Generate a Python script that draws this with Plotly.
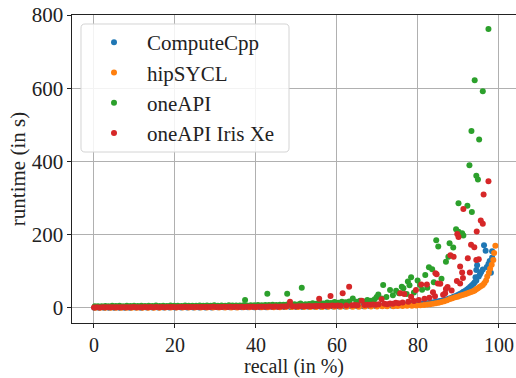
import plotly.graph_objects as go

# ---------------- data ----------------
cc_x = [0.1, 1.2, 2.5, 3.7, 5.0, 6.3, 7.6, 8.9, 10.2, 11.6, 13.0, 14.4, 15.8, 17.2, 18.6, 20.0,
        21.5, 23.0, 24.5, 26.0, 27.5, 29.0, 30.5, 32.0, 33.5, 35.0, 36.5, 38.0, 39.5, 41.0,
        42.5, 44.0, 45.5, 47.0, 48.5, 50.0, 51.5, 53.0, 54.5, 56.0, 57.5, 59.0, 60.5, 62.0,
        63.5, 65.0, 66.5, 68.0, 69.5, 71.0, 72.2, 73.4, 74.5, 75.6, 76.6, 77.5, 78.4, 79.3,
        80.1, 80.9, 81.6, 82.3, 83.0, 83.6, 84.2, 84.8, 85.4, 86.0, 86.6, 87.2, 87.7, 88.3,
        88.8, 89.3, 89.8, 90.3, 90.8, 91.2, 91.7, 92.1, 92.5, 92.9, 93.3, 93.7, 94.0, 94.2,
        94.4, 94.4, 94.6, 94.6, 95.0, 95.3, 95.6, 96.0, 96.3, 96.7, 97.0, 97.4, 97.7, 98.0,
        98.3, 98.3]
cc_y = [0.5, 0.6, 0.7, 0.6, 0.8, 0.7, 0.9, 0.8, 1.0, 0.9, 1.1, 1.0, 1.2, 1.1, 1.3, 1.2,
        1.4, 1.3, 1.5, 1.4, 1.6, 1.5, 1.7, 1.8, 1.7, 1.9, 2.0, 2.1, 2.0, 2.2, 2.3, 2.4, 2.5,
        2.6, 2.7, 2.8, 3.0, 3.1, 3.3, 3.4, 3.6, 3.8, 4.0, 4.2, 4.4, 4.6, 4.9, 5.2, 5.5, 5.9,
        6.3, 6.7, 7.1, 7.6, 8.1, 8.6, 9.2, 9.8, 10.5, 11.3, 12.1, 13.0, 14.0, 15.1, 16.3,
        17.6, 19.0, 20.5, 22.2, 24.0, 26.0, 28.1, 30.4, 32.9, 35.5, 38.2, 41.0, 44.0, 47.2,
        50.5, 54.0, 57.8, 61.8, 66.0, 70.5, 84.0, 104.0, 75.0, 117.0, 131.0, 86.0, 92.0,
        98.0, 105.0, 171.0, 156.0, 112.0, 120.0, 128.0, 96.0, 138.0, 155.0]

hip_x = [0.3, 1.5, 2.8, 4.1, 5.4, 6.7, 8.0, 9.3, 10.6, 12.0, 13.4, 14.8, 16.2, 17.6, 19.0,
         20.4, 21.9, 23.4, 24.9, 26.4, 27.9, 29.4, 30.9, 32.4, 33.9, 35.4, 36.9, 38.4, 39.9,
         41.4, 42.9, 44.4, 45.9, 47.4, 48.9, 50.4, 51.9, 53.4, 54.9, 56.4, 57.9, 59.4, 60.9,
         62.4, 63.9, 65.4, 66.9, 68.4, 69.9, 71.2, 72.4, 73.9, 75.0, 76.2, 77.3, 78.5, 79.6,
         80.6, 81.5, 82.3, 83.0, 83.7, 84.4, 85.1, 85.8, 86.5, 87.2, 87.9, 88.5, 89.2, 89.8,
         90.4, 91.0, 91.6, 92.1, 92.6, 93.1, 93.6, 94.0, 94.4, 94.8, 95.2, 95.6, 96.0, 96.4,
         96.8, 97.1, 97.5, 97.8, 98.2, 98.6, 98.8, 99.1]
hip_y = [0.3, 0.4, 0.4, 0.5, 0.5, 0.6, 0.6, 0.7, 0.7, 0.8, 0.8, 0.9, 0.9, 1.0, 1.0, 1.1,
         1.1, 1.2, 1.2, 1.3, 1.3, 1.4, 1.4, 1.5, 1.5, 1.6, 1.7, 1.8, 1.9, 2.0, 2.1, 2.2, 2.3,
         2.4, 2.5, 2.6, 2.7, 2.8, 2.9, 3.0, 3.1, 3.2, 3.3, 3.4, 3.5, 3.7, 3.9, 4.1, 4.3, 4.5,
         4.8, 5.0, 5.3, 5.6, 5.9, 6.3, 6.8, 7.4, 8.2, 9.3, 10.5, 11.6, 12.8, 14.5, 16.4, 18.5,
         20.8, 24.5, 26.8, 29.0, 31.0, 33.5, 35.5, 37.5, 39.5, 41.5, 43.5, 45.5, 48.0, 51.0,
         54.0, 57.0, 60.0, 63.0, 68.0, 75.0, 86.0, 96.0, 107.0, 118.0, 131.0, 150.0, 170.0]

one_x = [0.2, 1.0, 1.9, 2.8, 3.6, 4.5, 5.4, 6.3, 7.2, 8.1, 9.0, 9.9, 10.8, 11.7, 12.6, 13.5,
         14.4, 15.3, 16.2, 17.1, 18.0, 18.9, 19.8, 20.7, 21.6, 22.5, 23.4, 24.3, 25.2, 26.1,
         27.0, 27.9, 28.8, 29.7, 30.6, 31.5, 32.4, 33.3, 34.2, 35.1, 36.0, 36.9, 37.3, 37.8,
         38.7, 39.6, 40.5, 41.4, 42.3, 42.8, 43.2, 44.1, 45.0, 45.9, 46.8, 47.7, 47.7, 48.6,
         49.5, 50.4, 51.0, 51.3, 52.2, 53.1, 54.0, 54.9, 55.8, 56.7, 57.6, 58.5, 59.4, 60.3,
         61.2, 62.1, 63.0, 63.9, 64.8, 65.7, 66.6, 67.5, 68.4, 69.3, 69.8, 70.2, 71.0, 71.4,
         72.2, 73.1, 73.8, 74.6, 75.3, 76.0, 76.4, 77.2, 77.5, 77.9, 78.3, 79.0, 79.9, 80.5,
         81.0, 81.8, 82.3, 82.7, 83.5, 83.9, 84.5, 85.0, 85.8, 86.9, 87.5, 87.8, 88.7, 89.4,
         90.0, 90.0, 90.9, 91.2, 92.2, 92.7, 93.2, 93.3, 94.0, 94.4, 94.8, 95.1, 96.0, 97.4,
         98.2]
one_y = [4.5, 5.0, 4.8, 5.5, 5.0, 6.0, 5.2, 5.8, 5.0, 6.2, 5.4, 5.9, 5.1, 6.3, 5.6, 6.0,
         5.3, 6.5, 5.7, 6.1, 5.5, 6.6, 5.9, 6.2, 5.6, 6.8, 6.0, 6.4, 5.8, 7.0, 6.2, 6.6, 6.0,
         7.2, 6.4, 6.8, 6.2, 7.4, 6.6, 7.0, 6.5, 7.6, 22.0, 7.0, 7.8, 7.2, 8.0, 7.5, 8.3,
         39.0, 8.0, 8.6, 8.2, 9.0, 8.6, 9.4, 39.0, 9.2, 10.0, 9.6, 12.0, 55.0, 10.5, 11.0,
         13.0, 11.5, 14.0, 12.5, 15.0, 13.5, 16.0, 14.5, 17.0, 15.5, 18.0, 26.0, 17.0, 20.0,
         18.0, 22.0, 20.0, 24.0, 30.0, 37.0, 26.0, 63.0, 30.0, 49.0, 35.0, 47.0, 40.0, 58.0,
         54.0, 38.0, 72.0, 62.0, 84.0, 42.0, 75.0, 63.0, 50.0, 90.0, 55.0, 111.0, 106.0,
         70.0, 185.0, 168.0, 80.0, 126.0, 140.0, 177.0, 165.0, 215.0, 286.0, 208.0, 204.0,
         198.0, 279.0, 390.0, 483.0, 262.0, 622.0, 361.0, 351.0, 460.0, 592.0, 762.0]

iris_x = [0.0, 0.7, 1.4, 2.1, 2.8, 3.5, 4.2, 4.9, 5.6, 6.3, 7.0, 7.7, 8.4, 9.1, 9.8, 10.5,
          11.2, 11.9, 12.6, 13.3, 14.0, 14.7, 15.4, 16.1, 16.8, 17.5, 18.2, 18.9, 19.6, 20.3,
          21.0, 21.7, 22.4, 23.1, 23.8, 24.5, 25.2, 25.9, 26.6, 27.3, 28.0, 28.7, 29.4, 30.1,
          30.8, 31.5, 32.2, 32.9, 33.6, 34.3, 35.0, 35.7, 36.4, 37.1, 37.8, 38.5, 39.2, 39.9,
          40.6, 41.3, 42.0, 42.7, 43.4, 44.1, 44.8, 45.5, 46.2, 46.9, 47.6, 48.4, 49.0, 49.7,
          50.4, 51.1, 51.8, 52.5, 53.2, 53.9, 54.6, 55.3, 55.6, 56.0, 56.7, 57.4, 58.1, 58.4,
          58.8, 59.5, 60.2, 60.9, 61.4, 62.3, 63.0, 63.7, 64.4, 65.1, 66.1, 66.8, 67.5, 68.2,
          68.9, 69.6, 70.3, 71.0, 71.7, 72.4, 73.1, 73.8, 74.5, 75.2, 75.6, 76.2, 76.6, 77.6,
          78.3, 79.0, 79.5, 80.2, 80.8, 81.6, 82.2, 82.8, 83.7, 84.2, 84.3, 84.6, 84.9, 85.5,
          86.2, 86.7, 86.9, 87.3, 88.0, 88.3, 88.8, 89.6, 89.7, 90.0, 90.4, 90.4, 90.9, 91.1,
          91.2, 92.3, 92.8, 93.1, 93.9, 94.4, 94.5, 95.0, 95.5, 96.0, 96.2, 97.4, 97.9]
iris_y = [1.5, 1.8, 1.6, 2.0, 1.7, 2.1, 1.8, 2.2, 1.9, 2.0, 2.3, 1.9, 2.2, 2.0, 2.4, 2.1,
          2.3, 2.0, 2.5, 2.2, 2.4, 2.1, 2.6, 2.3, 2.5, 2.2, 2.7, 2.4, 2.6, 2.3, 2.8, 2.5,
          2.7, 2.4, 2.9, 2.6, 2.8, 2.5, 3.0, 2.7, 2.9, 2.6, 3.1, 2.8, 3.0, 2.7, 3.2, 2.9,
          3.1, 2.8, 3.3, 3.0, 3.2, 2.9, 3.4, 3.1, 3.3, 3.0, 3.5, 3.2, 3.6, 3.3, 3.8, 3.5,
          4.0, 3.7, 4.2, 3.9, 4.4, 17.0, 4.6, 4.3, 4.8, 4.5, 5.0, 4.7, 5.3, 5.0, 5.6, 5.2,
          25.0, 5.9, 5.5, 6.2, 5.8, 33.0, 6.5, 6.1, 6.8, 6.4, 40.0, 7.0, 58.0, 7.4, 8.0, 7.6,
          20.0, 8.4, 9.0, 8.6, 9.6, 9.0, 10.5, 24.0, 11.5, 10.5, 12.5, 11.5, 14.0, 13.0,
          40.0, 15.0, 38.0, 17.0, 31.0, 19.0, 49.0, 22.0, 64.0, 25.0, 64.0, 28.0, 43.0,
          32.0, 95.0, 92.0, 67.0, 66.0, 36.0, 40.0, 52.0, 57.0, 144.0, 48.0, 140.0, 74.0,
          202.0, 194.0, 113.0, 67.0, 97.0, 82.0, 270.0, 136.0, 97.0, 173.0, 166.0, 131.0,
          209.0, 133.0, 239.0, 230.0, 310.0, 346.0]

names = ["ComputeCpp", "hipSYCL", "oneAPI", "oneAPI Iris Xe"]
colors = ["#1f77b4", "#ff7f0e", "#2ca02c", "#d62728"]
series_x = [cc_x, hip_x, one_x, iris_x]
series_y = [cc_y, hip_y, one_y, iris_y]

x_ticks = [0, 20, 40, 60, 80, 100]
y_ticks = [0, 200, 400, 600, 800]

FONT = "Liberation Serif, serif"

fig = go.Figure()
for nm, c, xs, ys in zip(names, colors, series_x, series_y):
    fig.add_trace(go.Scatter(x=xs, y=ys, mode="markers", name=nm,
                             marker=dict(color=c, size=6, line=dict(width=0))))

W, H = 516, 378
ml, mr, mt, mb = 72, 0, 15, 55
pw, ph = W - ml - mr, H - mt - mb

# legend frame (rounded rectangle) in paper coords
def px2paper(xp, yp):
    return (xp - ml) / pw, 1 - (yp - mt) / ph

x0, y0, x1, y1, r = 81, 24, 289, 152, 4
def P(xp, yp):
    a, b = px2paper(xp, yp)
    return f"{a:.5f},{b:.5f}"
path = (f"M {P(x0 + r, y0)} L {P(x1 - r, y0)} Q {P(x1, y0)} {P(x1, y0 + r)} "
        f"L {P(x1, y1 - r)} Q {P(x1, y1)} {P(x1 - r, y1)} L {P(x0 + r, y1)} "
        f"Q {P(x0, y1)} {P(x0, y1 - r)} L {P(x0, y0 + r)} Q {P(x0, y0)} {P(x0 + r, y0)} Z")
fig.add_shape(type="path", path=path, xref="paper", yref="paper", layer="above",
              fillcolor="rgba(255,255,255,0.85)", line=dict(color="#d4d4d4", width=1))

lx, ly = px2paper(x0, y0 - 2)
fig.update_layout(
    width=W, height=H,
    margin=dict(l=ml, r=mr, t=mt, b=mb, pad=0),
    paper_bgcolor="white", plot_bgcolor="white",
    font=dict(family=FONT, size=20, color="#222222"),
    showlegend=True,
    legend=dict(x=lx, y=ly, xanchor="left", yanchor="top",
                bgcolor="rgba(0,0,0,0)", borderwidth=0,
                font=dict(family=FONT, size=21, color="#222222"),
                itemwidth=56, tracegroupgap=0),
    xaxis=dict(range=[-5.43, 104.2], tickvals=x_ticks, ticktext=[str(v) for v in x_ticks],
               showgrid=True, gridcolor="#b0b0b0", gridwidth=1, zeroline=False,
               showline=True, linecolor="#222222", linewidth=1.2, mirror=True,
               ticks="outside", ticklen=3.5, tickcolor="#222222", tickwidth=1,
               tickfont=dict(family=FONT, size=20),
               title=dict(text="recall (in %)", font=dict(family=FONT, size=20), standoff=6)),
    yaxis=dict(range=[-41, 800], tickvals=y_ticks, ticktext=[str(v) for v in y_ticks],
               showgrid=True, gridcolor="#b0b0b0", gridwidth=1, zeroline=False,
               showline=True, linecolor="#222222", linewidth=1.2, mirror=False,
               ticks="outside", ticklen=3.5, tickcolor="#222222", tickwidth=1,
               tickfont=dict(family=FONT, size=21),
               title=dict(text="runtime (in s)", font=dict(family=FONT, size=21), standoff=0)),
)
fig.write_html("out.html")
